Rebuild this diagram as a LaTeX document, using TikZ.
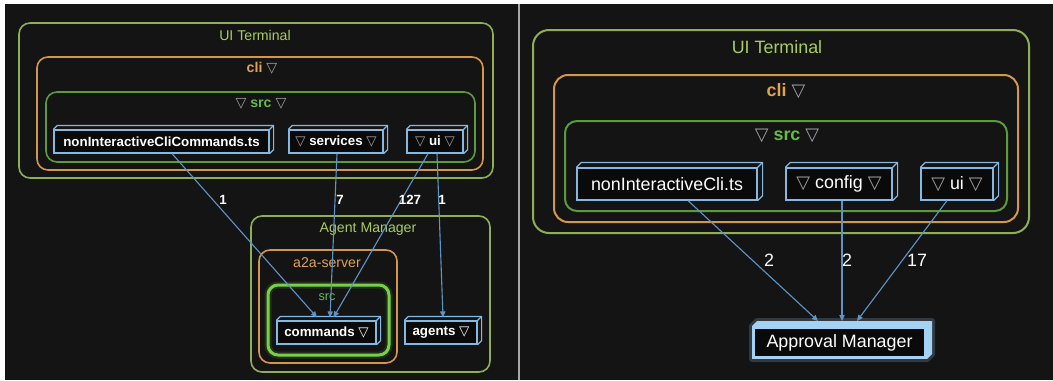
\documentclass[tikz,border=0pt]{standalone}
\usepackage{fontspec}
\setmainfont{Liberation Sans}
\newfontfamily\symfont{DejaVu Sans}
\usetikzlibrary{arrows.meta,fit,calc}

\newdimen\pxu \pxu=0.75pt

\definecolor{bg}{HTML}{141414}
\definecolor{sepgray}{HTML}{A8A8A8}
\definecolor{uiGreen}{HTML}{8FAE57}
\definecolor{uiLabel}{HTML}{A8CD5E}
\definecolor{cliOrange}{HTML}{D4964C}
\definecolor{cliLabel}{HTML}{E3A250}
\definecolor{srcGreen}{HTML}{5C9B3C}
\definecolor{srcLabel}{HTML}{66BB44}
\definecolor{srcBright}{HTML}{78D046}
\definecolor{nodeBlue}{HTML}{86B8E0}
\definecolor{nodeFill}{HTML}{0A0A0A}
\definecolor{edgeBlue}{HTML}{5E95C6}
\definecolor{triGray}{HTML}{A0A0A0}
\definecolor{amBlue}{HTML}{A3D2F4}

% font sizes for the two panels
\newcommand\fsL{\fontsize{10.6pt}{12pt}\selectfont}
\newcommand\fsLb{\fontsize{10pt}{12pt}\selectfont\bfseries}
\newcommand\fsLs{\fontsize{9.5pt}{11pt}\selectfont}
\newcommand\fsR{\fontsize{13.4pt}{16pt}\selectfont}
\newcommand\tri{{\symfont\char"25BD}}
\newcommand\gtri{\textcolor{triGray}{\tri}}

% top and right faces of a box node
\newcommand\extrude[3]{%
  \draw[#3] (#1.north west) -- ++(#2,-#2) -- ($(#1.north east)+(#2,-#2)$)
     -- ($(#1.south east)+(#2,-#2)$) -- (#1.south east);
  \draw[#3] (#1.north east) -- ++(#2,-#2);}

\tikzset{
  frame/.style={draw=#1, rounded corners=11\pxu, line width=1.6\pxu, inner sep=0pt},
  lbl/.style={inner sep=0pt, text=#1},
  box3d/.style={draw=nodeBlue, fill=nodeFill, text=white, line width=1.2\pxu, inner sep=0pt},
  face/.style={draw=nodeBlue, line width=1.2\pxu, line join=round},
  edge/.style={draw=edgeBlue, line width=1.1\pxu, -{Triangle[length=4.5pt,width=4pt]}},
  elbl/.style={inner sep=0pt, text=white},
}

\begin{document}
\begin{tikzpicture}[x=0.75pt, y=-0.75pt]
\useasboundingbox (0,0) rectangle (1053,380);
\fill[white] (0,0) rectangle (1053,380);
\fill[bg] (5,4) rectangle (518,380);
\fill[bg] (519.5,4) rectangle (1053,380);
\fill[sepgray] (518,4) rectangle (519.5,380);

% ---------------- left panel ----------------
\node[frame=uiGreen, fit={(19,23) (493,178)}] (termL) {};
\node[frame=cliOrange, fit={(37,57) (483,170)}] (cliL) {};
\node[frame=srcGreen, fit={(46,92) (475,162)}] (srcL) {};
\node[lbl=uiLabel, font=\fsL] (termLlbl) at (255,35) {UI Terminal};
\node[lbl=cliLabel, font=\fsL\bfseries] (cliLlbl) at (262,68) {cli \gtri};
\node[lbl=srcLabel, font=\fsL\bfseries] (srcLlbl) at (261,104) {\gtri\ src \gtri};

\node[frame=uiGreen, fit={(251,216) (490,372)}] (agmL) {};
\node[frame=cliOrange, fit={(259,250) (397,363)}] (a2aL) {};
\node[frame=srcBright, line width=3\pxu, rounded corners=10\pxu,
      preaction={draw=srcBright, opacity=0.15, line width=7\pxu},
      fit={(268,285) (389,355)}] (srcA) {};
\node[lbl=uiLabel, font=\fsL] (agmLlbl) at (368,229) {Agent Manager};
\node[lbl=cliLabel, font=\fsL] (a2aLlbl) at (327,263) {a2a-server};
\node[lbl=srcLabel, font=\fsLs] (srcAlbl) at (327,297) {src};

\node[box3d, minimum width=215\pxu, minimum height=23\pxu, font=\fsLb] (ncc) at (161.5,141.5) {nonInteractiveCliCommands.ts};
\node[box3d, minimum width=94\pxu, minimum height=23\pxu, font=\fsLb] (svc) at (336,141.5) {\gtri\ services \gtri};
\node[box3d, minimum width=56\pxu, minimum height=23\pxu, font=\fsLb] (uiL) at (435,141.5) {\gtri\ ui \gtri};
\node[box3d, minimum width=99\pxu, minimum height=23\pxu, font=\fsLb] (cmd) at (326.5,332.5) {commands \tri};
\node[box3d, minimum width=72\pxu, minimum height=23\pxu, font=\fsLb] (agt) at (441,332.5) {agents \tri};
\foreach \n in {ncc,svc,uiL,cmd,agt} {\extrude{\n}{4}{face}}

\draw[edge] ([xshift=10.5\pxu]ncc.south) -- ([xshift=-9.5\pxu,yshift=3\pxu]cmd.north);
\draw[edge] ([xshift=1\pxu]svc.south) -- ([xshift=3.5\pxu,yshift=3\pxu]cmd.north);
\draw[edge] ([xshift=-7\pxu]uiL.south) -- ([xshift=7\pxu,yshift=3\pxu]cmd.north);
\draw[edge] ([xshift=2\pxu]uiL.south) -- ([xshift=2\pxu,yshift=3\pxu]agt.north);
\node[elbl, font=\fsLb] (l1) at (223,200) {1};
\node[elbl, font=\fsLb] (l2) at (340,200) {7};
\node[elbl, font=\fsLb] (l3) at (410,200) {127};
\node[elbl, font=\fsLb] (l4) at (442,200) {1};

% ---------------- right panel ----------------
\node[frame=uiGreen, line width=2\pxu, rounded corners=16\pxu, fit={(533,30) (1029,233)}] (termR) {};
\node[frame=cliOrange, line width=2\pxu, rounded corners=14\pxu, fit={(554,75) (1018,222)}] (cliR) {};
\node[frame=srcGreen, line width=2\pxu, rounded corners=12\pxu, fit={(565,121) (1007,211)}] (srcR) {};
\node[lbl=uiLabel, font=\fsR] (termRlbl) at (777,47) {UI Terminal};
\node[lbl=cliLabel, font=\fsR\bfseries] (cliRlbl) at (786,91) {cli \gtri};
\node[lbl=srcLabel, font=\fsR\bfseries] (srcRlbl) at (787,136) {\gtri\ src \gtri};

\node[box3d, minimum width=180\pxu, minimum height=32\pxu, font=\fsR] (nicR) at (667,184) {nonInteractiveCli.ts};
\node[box3d, minimum width=106\pxu, minimum height=32\pxu, font=\fsR] (cfg) at (839,184) {\gtri\ config \gtri};
\node[box3d, minimum width=72\pxu, minimum height=32\pxu, font=\fsR] (uiR) at (957,184) {\gtri\ ui \gtri};
\foreach \n in {nicR,cfg,uiR} {\extrude{\n}{5}{face}}

% Approval Manager: filled top/right faces with a soft halo
\node[box3d, draw=amBlue, line width=3\pxu, minimum width=172\pxu, minimum height=30\pxu, font=\fsR] (apm) at (839.5,342.5) {Approval Manager};
\draw[amBlue, opacity=0.2, line width=6\pxu, line join=round]
   (apm.south west) -- (apm.north west) -- ++(5,-5) -- ($(apm.north east)+(5,-5)$)
   -- ($(apm.south east)+(5,-5)$) -- (apm.south east) -- cycle;
\fill[amBlue] (apm.north west) -- ++(5,-5) -- ($(apm.north east)+(5,-5)$)
   -- ($(apm.south east)+(5,-5)$) -- (apm.south east) -- (apm.north east) -- cycle;

\draw[edge] ([xshift=21\pxu]nicR.south) -- ([xshift=-21.5\pxu,yshift=5\pxu]apm.north);
\draw[edge] ([xshift=3\pxu]cfg.south) -- ([xshift=2.5\pxu,yshift=5\pxu]apm.north);
\draw[edge] ([xshift=-10\pxu]uiR.south) -- ([xshift=17.5\pxu,yshift=5\pxu]apm.north);
\node[elbl, font=\fsR] (r1) at (769,260) {2};
\node[elbl, font=\fsR] (r2) at (847,260) {2};
\node[elbl, font=\fsR] (r3) at (917,260) {17};
\end{tikzpicture}
\end{document}
